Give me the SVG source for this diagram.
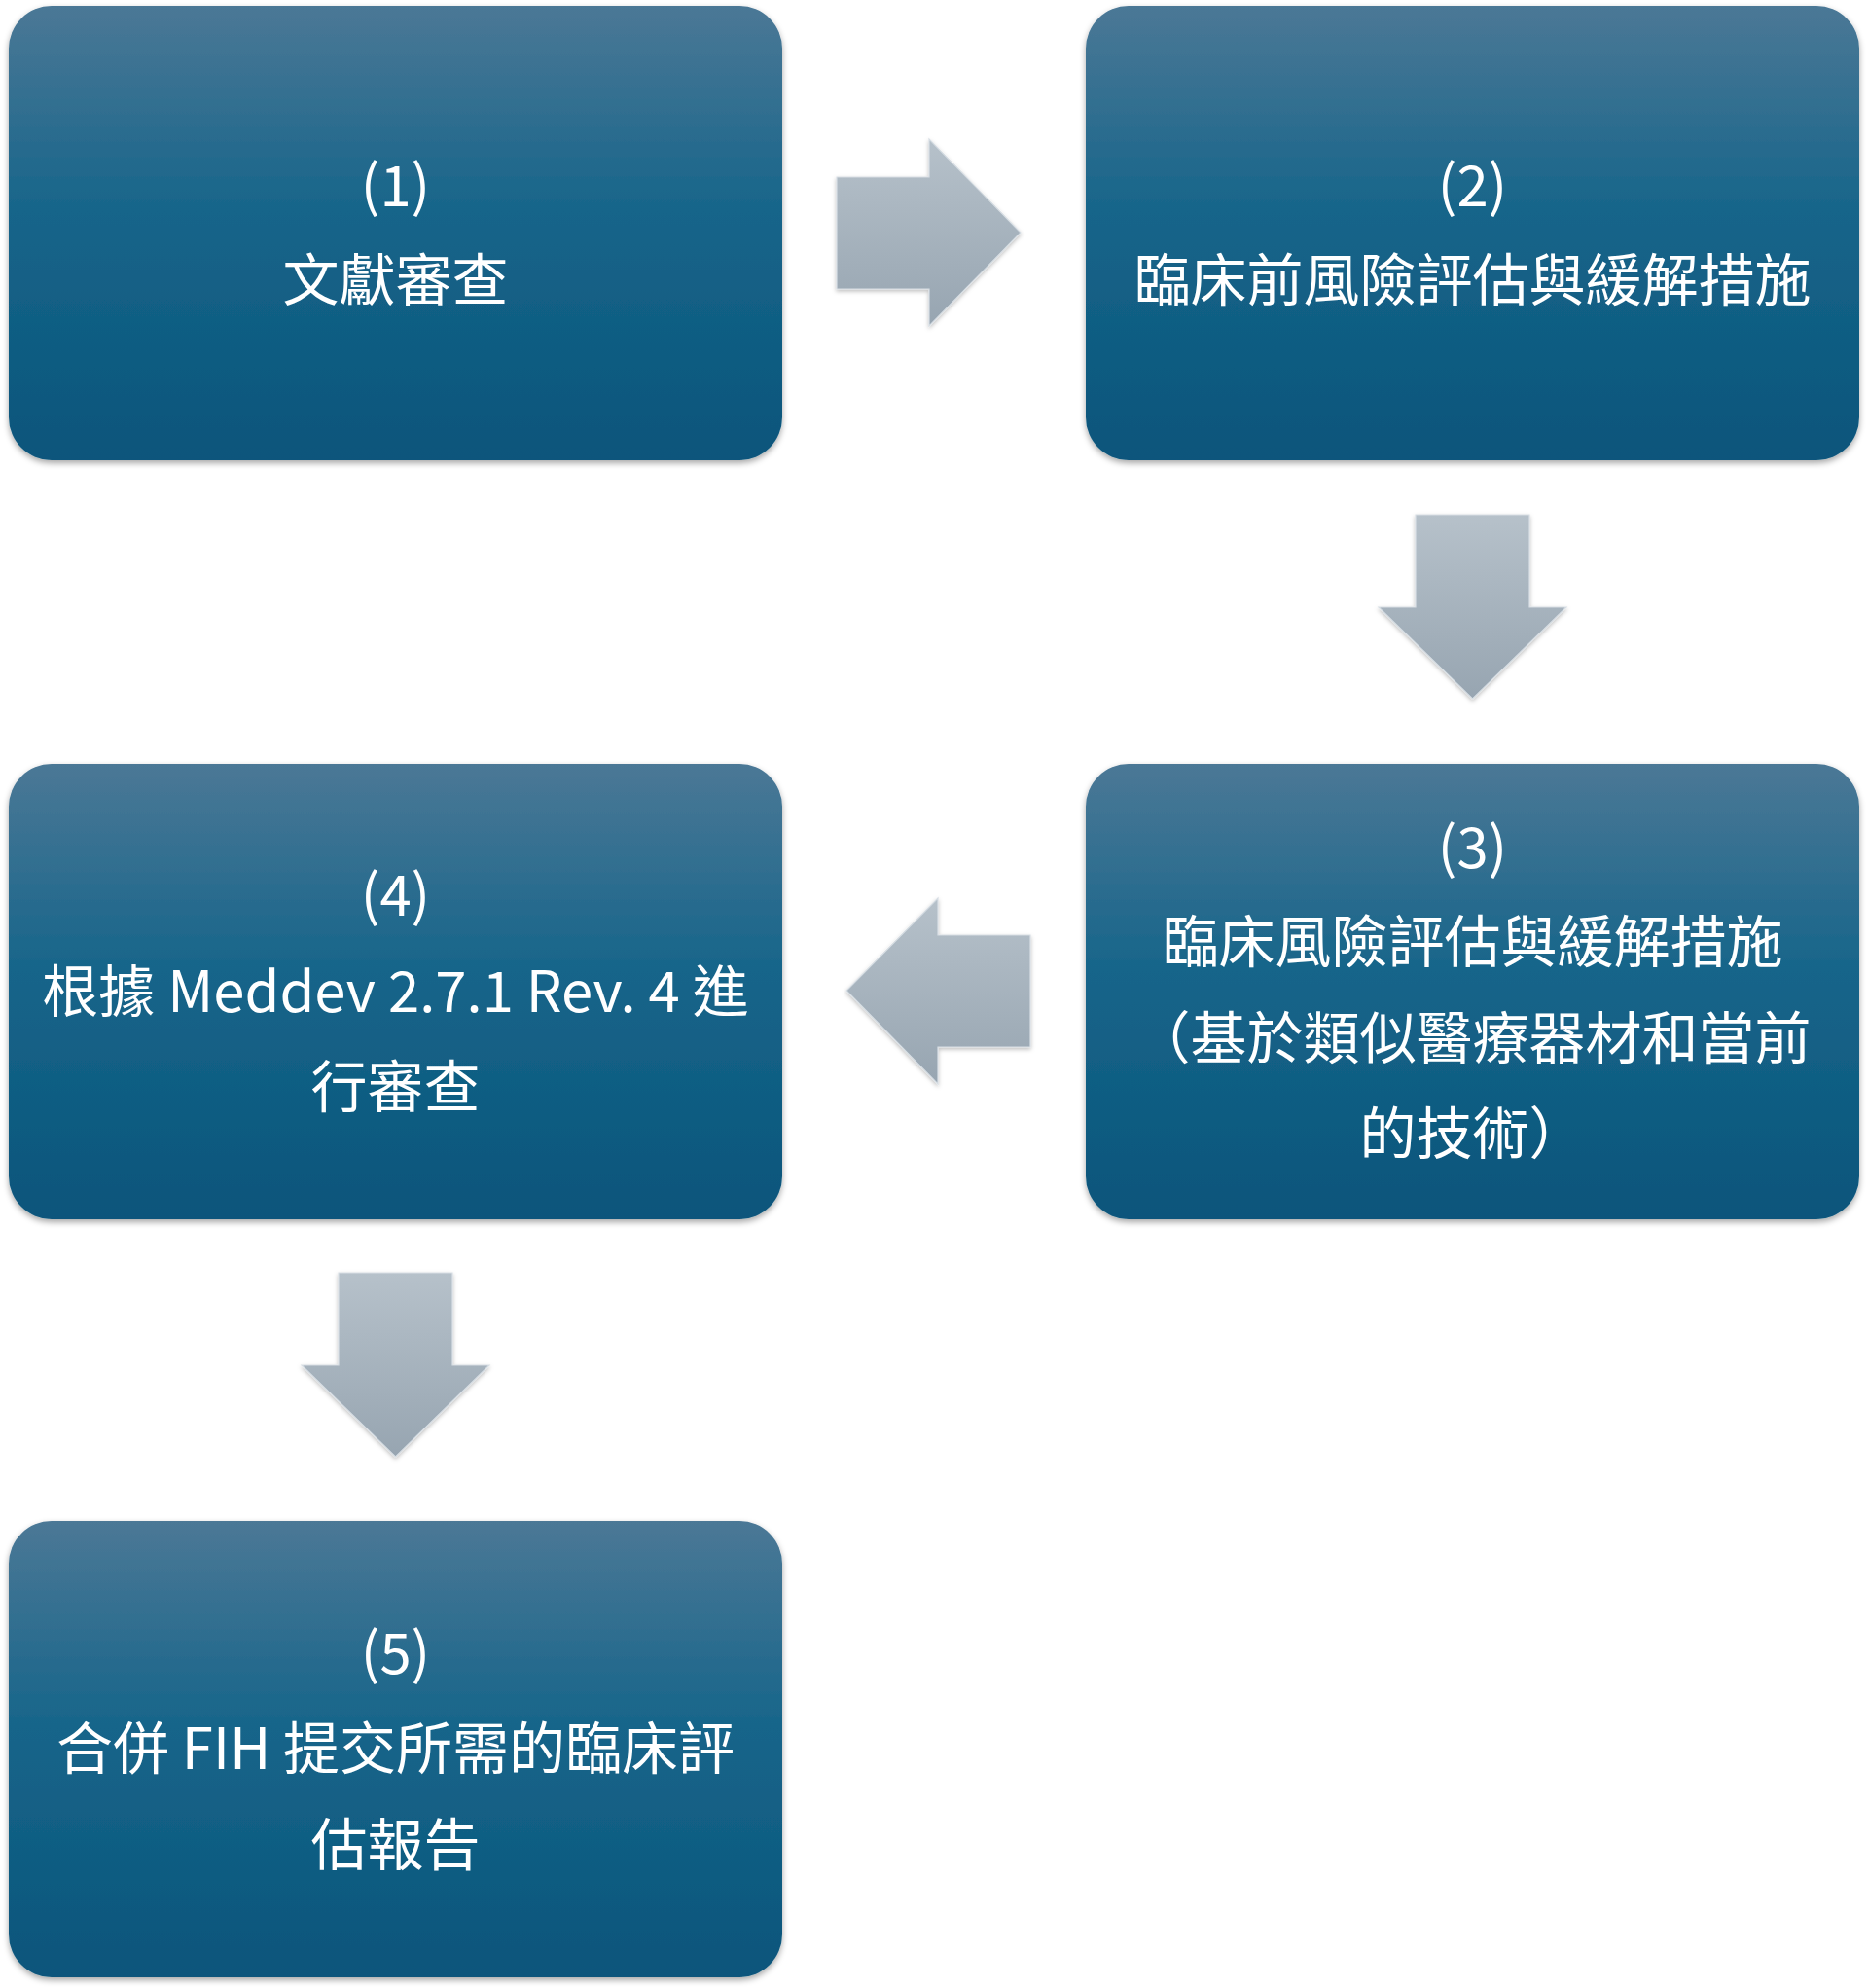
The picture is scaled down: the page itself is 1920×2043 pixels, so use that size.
<svg xmlns="http://www.w3.org/2000/svg" width="1920" height="2043" viewBox="0 0 1920 2043">
<defs>
  <linearGradient id="boxGrad" x1="0" y1="0" x2="0" y2="1">
    <stop offset="0" stop-color="#4B7896"/>
    <stop offset="0.45" stop-color="#17658A"/>
    <stop offset="1" stop-color="#09557B"/>
  </linearGradient>
  <linearGradient id="arrowGrad" x1="0" y1="0" x2="0" y2="1">
    <stop offset="0" stop-color="#B6C1CA"/>
    <stop offset="1" stop-color="#97A5B1"/>
  </linearGradient>
  <filter id="shadow" x="-5%" y="-5%" width="110%" height="115%">
    <feDropShadow dx="0" dy="3" stdDeviation="3" flood-color="#000" flood-opacity="0.35"/>
  </filter>
  <filter id="ashadow" x="-10%" y="-10%" width="120%" height="125%">
    <feDropShadow dx="0" dy="2" stdDeviation="2" flood-color="#000" flood-opacity="0.25"/>
  </filter>
</defs>
<style>
  .box { fill: url(#boxGrad); filter: url(#shadow); }
  .arrow { fill: url(#arrowGrad); stroke: #D7DEE4; stroke-width: 1.2; filter: url(#ashadow); }
  .t { font-family: "Noto Sans CJK TC", "Noto Sans", sans-serif; font-size: 58px; fill: #FFFFFF; text-anchor: middle; }
</style>
<rect width="1920" height="2043" fill="#FFFFFF"/>

<g id="connectors">
  <polygon class="arrow" points="860,182 955,182 955,143 1049,239 955,335 955,297 860,297"/>
  <polygon class="arrow" points="1455,529 1572,529 1572,624 1610,624 1513.5,718 1417,624 1455,624"/>
  <polygon class="arrow" points="1059,961 964,961 964,923 870,1018 964,1114 964,1076 1059,1076"/>
  <polygon class="arrow" points="348,1308 465,1308 465,1403 503,1403 406.5,1497 310,1403 348,1403"/>
</g>

<g id="node1">
  <rect class="box" x="9" y="6" width="795" height="467" rx="44" ry="44"/>
  <text class="t" x="406.5" y="212">(1)</text>
  <text class="t" x="406.5" y="309">文獻審查</text>
</g>

<g id="node2">
  <rect class="box" x="1116" y="6" width="795" height="467" rx="44" ry="44"/>
  <text class="t" x="1513.5" y="212">(2)</text>
  <text class="t" x="1513.5" y="309">臨床前風險評估與緩解措施</text>
</g>

<g id="node3">
  <rect class="box" x="1116" y="785" width="795" height="468" rx="44" ry="44"/>
  <text class="t" x="1513.5" y="892">(3)</text>
  <text class="t" x="1513.5" y="989">臨床風險評估與緩解措施</text>
  <text class="t" x="1513.5" y="1088">（基於類似醫療器材和當前</text>
  <text class="t" x="1513.5" y="1186">的技術）</text>
</g>

<g id="node4">
  <rect class="box" x="9" y="785" width="795" height="468" rx="44" ry="44"/>
  <text class="t" x="406.5" y="941">(4)</text>
  <text class="t" x="406.5" y="1040">根據 Meddev 2.7.1 Rev. 4 進</text>
  <text class="t" x="406.5" y="1138">行審查</text>
</g>

<g id="node5">
  <rect class="box" x="9" y="1563" width="795" height="469" rx="44" ry="44"/>
  <text class="t" x="406.5" y="1720">(5)</text>
  <text class="t" x="406.5" y="1818">合併 FIH 提交所需的臨床評</text>
  <text class="t" x="406.5" y="1917">估報告</text>
</g>
</svg>
